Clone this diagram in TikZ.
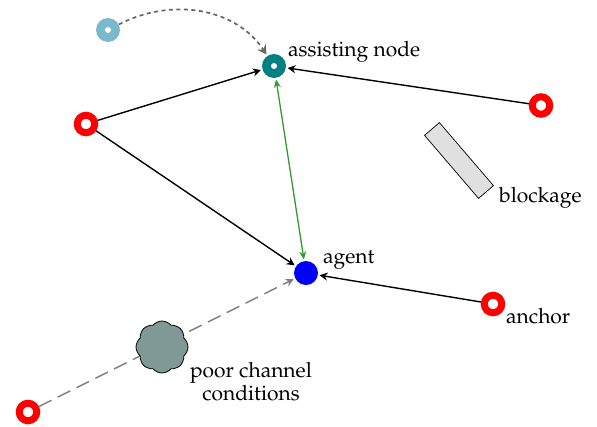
\documentclass[tikz,border=0pt]{standalone}
\usepackage[T1]{fontenc}
\usepackage{mathpazo}
\usetikzlibrary{arrows.meta,shapes.symbols}
\definecolor{teal1}{RGB}{0,128,128}
\definecolor{lblue}{RGB}{124,184,204}
\definecolor{cloudc}{RGB}{128,153,150}
\definecolor{gline}{RGB}{51,153,51}
\tikzset{
  x=1pt,y=-1pt,
  ring/.style={circle,draw=red,line width=7pt,fill=white,minimum size=17.5pt,inner sep=0pt},
  hub/.style={circle,fill=#1,minimum size=24pt,inner sep=0pt},
  hole/.style={circle,fill=white,minimum size=6pt,inner sep=0pt},
  conn/.style={-{Stealth[length=8pt,width=8pt]},line width=1.4pt,shorten >=1.5pt},
  lab/.style={font=\fontsize{21}{23}\selectfont,inner sep=0pt,align=center},
}
\begin{document}
\begin{tikzpicture}
\useasboundingbox (0,0) rectangle (597,426);
\node[ring] (a1) at (86,124) {};
\node[ring] (a2) at (541,105.5) {};
\node[ring] (a3) at (493,304) {};
\node[ring] (a4) at (28,412) {};
\node[hub=teal1] (assist) at (274,66) {};
\node[hole] at (assist) {};
\node[hub=lblue] (helper) at (108,30) {};
\node[hole] at (helper) {};
\node[hub=blue] (agent) at (306,273) {};
\draw[conn] (a1) -- (assist);
\draw[conn] (a1) -- (agent);
\draw[conn] (a2) -- (assist);
\draw[conn] (a3) -- (agent);
\draw[conn,draw=black!50,dash pattern=on 14pt off 7pt,line width=1.4pt,-{Stealth[length=8pt,width=8pt,black!50]}] (a4) -- (agent);
\draw[conn,draw=black!60,dash pattern=on 4pt off 3.5pt,line width=1.7pt,-{Stealth[length=9pt,width=10pt,black!60]}] (helper) .. controls (172,-3) and (236,8) .. (assist);
\draw[{Stealth[length=8pt,width=7pt]}-{Stealth[length=8pt,width=7pt]},draw=gline,color=gline,line width=1.3pt,shorten <=1.5pt,shorten >=1.5pt] (assist) -- (agent);
\node[cloud,cloud puffs=8,cloud puff arc=100,aspect=1,shape border rotate=20,draw=black,fill=cloudc,minimum width=52pt,minimum height=52pt,inner sep=0pt,line width=.8pt] (cl) at (162,347) {};
\node[draw=black,fill=black!12,minimum width=83pt,minimum height=19.6pt,inner sep=0pt,rotate=-49.4,line width=.7pt] (blk) at (459,160.5) {};
\node[lab,anchor=base west] (t1) at (288,56) {assisting node};
\node[lab,anchor=base west] (t2) at (323,263) {agent};
\node[lab,anchor=base west] (t3) at (499,202) {blockage};
\node[lab,anchor=base west] (t4) at (506,323) {anchor};
\node[lab,anchor=base] (t5) at (251,377) {poor channel};
\node[lab,anchor=base] (t6) at (251,400) {conditions};
\end{tikzpicture}
\end{document}
